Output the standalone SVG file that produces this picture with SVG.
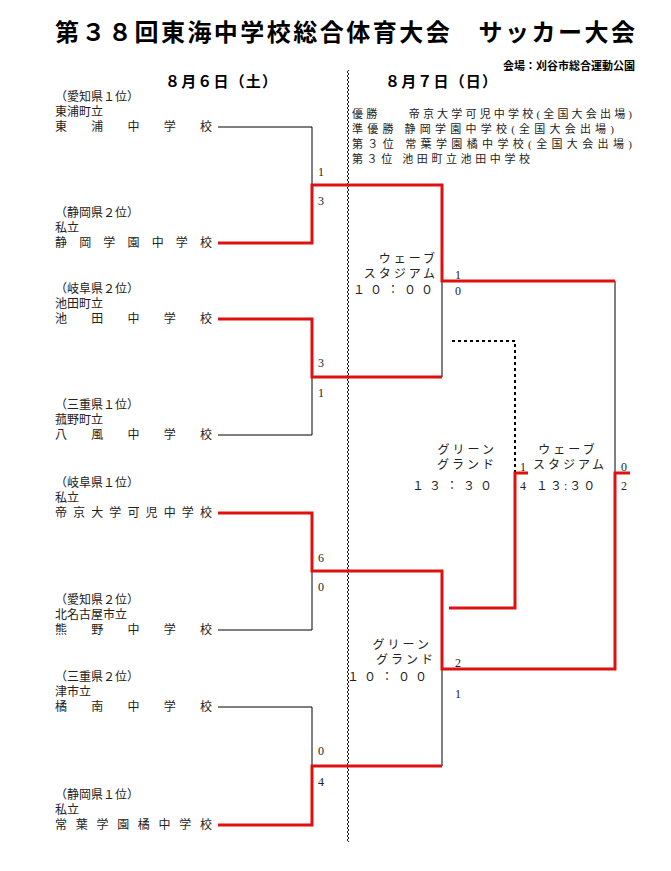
<svg xmlns="http://www.w3.org/2000/svg" width="671" height="871" viewBox="0 0 671 871">
<style>
text{font-family:"Liberation Serif","Noto Sans CJK JP",serif;fill:#222;font-size:12px}
.b{font-family:"Liberation Sans","Noto Sans CJK JP",sans-serif;font-weight:bold;fill:#000}
.t{font-size:24px}
.s11{font-size:11px}
.s14{font-size:15px}
.r{text-anchor:end}
.m{text-anchor:middle}
.k{fill:none;stroke:#000;stroke-width:1}
.red{fill:none;stroke:#e01010;stroke-width:3}
.d{fill:none;stroke:#000;stroke-width:2;stroke-dasharray:3,3}
</style>
<defs>
<pattern id="zz" width="4" height="4" patternUnits="userSpaceOnUse" x="346" y="0">
<polyline points="1,0 3,2 1,4" fill="none" stroke="#000" stroke-width="0.9"/>
</pattern>
</defs>
<rect width="671" height="871" fill="#fff"/>
<text class="b t" x="55" y="41" textLength="580" lengthAdjust="spacing">第３８回東海中学校総合体育大会　サッカー大会</text>
<text class="b r s11" x="635" y="70">会場：刈谷市総合運動公園</text>
<text class="b s14" x="165" y="87" textLength="112" lengthAdjust="spacing">８月６日（土）</text>
<text class="b s14" x="385" y="87" textLength="112" lengthAdjust="spacing">８月７日（日）</text>
<g id="results">
<text class="s11" x="352" y="118" textLength="280" lengthAdjust="spacing">優勝　　帝京大学可児中学校(全国大会出場)</text>
<text class="s11" x="352" y="133" textLength="262" lengthAdjust="spacing">準優勝 静岡学園中学校(全国大会出場)</text>
<text class="s11" x="352" y="148" textLength="280" lengthAdjust="spacing">第３位 常葉学園橘中学校(全国大会出場)</text>
<text class="s11" x="352" y="163" textLength="178" lengthAdjust="spacing">第３位 池田町立池田中学校</text>
</g>
<rect x="346" y="70" width="4" height="772" fill="url(#zz)"/>
<g id="t1"><text x="55" y="101">（愛知県１位）</text><text x="55" y="116">東浦町立</text><text x="55" y="131" textLength="157" lengthAdjust="spacing">東浦中学校</text></g>
<g id="t2"><text x="55" y="217">（静岡県２位）</text><text x="55" y="232">私立</text><text x="55" y="247" textLength="157" lengthAdjust="spacing">静岡学園中学校</text></g>
<g id="t3"><text x="55" y="293">（岐阜県２位）</text><text x="55" y="308">池田町立</text><text x="55" y="323" textLength="157" lengthAdjust="spacing">池田中学校</text></g>
<g id="t4"><text x="55" y="409">（三重県１位）</text><text x="55" y="424">菰野町立</text><text x="55" y="439" textLength="157" lengthAdjust="spacing">八風中学校</text></g>
<g id="t5"><text x="55" y="487">（岐阜県１位）</text><text x="55" y="502">私立</text><text x="55" y="517" textLength="157" lengthAdjust="spacing">帝京大学可児中学校</text></g>
<g id="t6"><text x="55" y="604">（愛知県２位）</text><text x="55" y="619">北名古屋市立</text><text x="55" y="634" textLength="157" lengthAdjust="spacing">熊野中学校</text></g>
<g id="t7"><text x="55" y="681">（三重県２位）</text><text x="55" y="696">津市立</text><text x="55" y="711" textLength="157" lengthAdjust="spacing">橘南中学校</text></g>
<g id="t8"><text x="55" y="799">（静岡県１位）</text><text x="55" y="814">私立</text><text x="55" y="829" textLength="157" lengthAdjust="spacing">常葉学園橘中学校</text></g>
<g id="connectors">
<polyline class="k" points="218,127 312,127 312,185"/>
<polyline class="k" points="312,377 312,435 218,435"/>
<polyline class="k" points="442,281 442,377"/>
<polyline class="k" points="615,281 615,473"/>
<polyline class="k" points="312,571 312,630 218,630"/>
<polyline class="k" points="218,707 312,707 312,766"/>
<polyline class="k" points="442,669 442,766"/>
<polyline class="d" points="452,341 515,341 515,473"/>
<polyline class="red" points="218,243 312,243 312,185 442,185 442,281 615,281"/>
<polyline class="red" points="218,319 312,319 312,377 442,377"/>
<polyline class="red" points="218,513 312,513 312,571 442,571 442,669 615,669 615,473 630,473"/>
<polyline class="red" points="218,825 312,825 312,766 442,766"/>
<polyline class="red" points="449,608 515,608 515,473 528,473"/>
</g>
<g id="scores">
<text x="318" y="176">1</text><text x="318" y="205">3</text>
<text x="318" y="367">3</text><text x="318" y="397">1</text>
<text x="318" y="562">6</text><text x="318" y="591">0</text>
<text x="318" y="755">0</text><text x="318" y="786">4</text>
<text x="455" y="279">1</text><text x="455" y="295">0</text>
<text x="455" y="667">2</text><text x="455" y="698">1</text>
<text x="520" y="471">1</text><text x="520" y="490">4</text>
<text x="621" y="471">0</text><text x="621" y="490">2</text>
</g>
<g id="venue1"><text class="r" x="438" y="263" letter-spacing="3">ウェーブ</text><text class="r" x="438" y="278" letter-spacing="3">スタジアム</text><text class="r" x="438" y="294" letter-spacing="5">１０：００</text></g>
<g id="venue2"><text class="r" x="432" y="649" letter-spacing="3">グリーン</text><text class="r" x="436" y="664" letter-spacing="3">グランド</text><text class="r" x="432" y="681" letter-spacing="5">１０：００</text></g>
<g id="venue3"><text class="r" x="497" y="454" letter-spacing="3">グリーン</text><text class="r" x="497" y="469" letter-spacing="3">グランド</text><text class="r" x="497" y="490" letter-spacing="5">１３：３０</text></g>
<g id="venue4"><text class="m" x="568" y="454" letter-spacing="3">ウェーブ</text><text class="m" x="570" y="469" letter-spacing="3">スタジアム</text><text x="536" y="490" letter-spacing="2">１３:３０</text></g>
</svg>
